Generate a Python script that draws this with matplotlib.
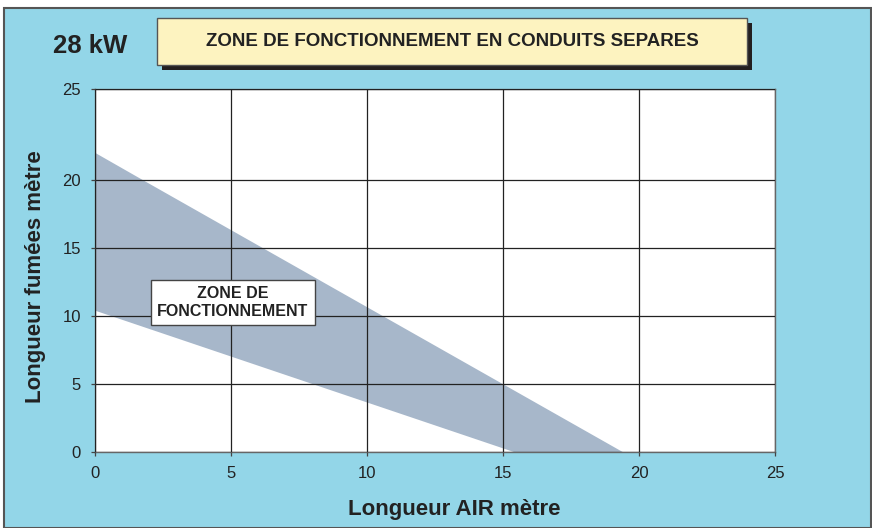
import matplotlib.pyplot as plt
from matplotlib.patches import Rectangle, Polygon
import numpy as np

plt.rcParams['font.family'] = ['Liberation Sans', 'DejaVu Sans']

# operating zone (air length, flue length); upper edge bends where it meets the 20 m line
upper_x = [0, 1.76, 19.4]
upper_y = [21.5, 20, 0]
lower_x = [0, 15.4]
lower_y = [10.4, 0]

x_ticks = [0, 5, 10, 15, 20, 25]
y_ticks = [0, 5, 10, 15, 20, 25]

power = "28 kW"
title = "ZONE DE FONCTIONNEMENT EN CONDUITS SEPARES"
zone_label = "ZONE DE\nFONCTIONNEMENT"
xlabel = "Longueur AIR mètre"
ylabel = "Longueur fumées mètre"

bg = '#93d6e8'
zone_col = '#a7b7ca'

# top band of the y axis (20-25) is drawn taller than the others
STRETCH = 1.34


def fwd(y):
    y = np.asarray(y, dtype=float)
    return np.where(y <= 20, y, 20 + (y - 20) * STRETCH)


def inv(y):
    y = np.asarray(y, dtype=float)
    return np.where(y <= 20, y, 20 + (y - 20) / STRETCH)


W, H = 872, 528
fig = plt.figure(figsize=(W / 100, H / 100), dpi=100)
fig.patch.set_facecolor('white')

# blue panel with grey frame
fig.patches.append(Rectangle((4 / W, 0), 1 - 5 / W, 1 - 8 / H, transform=fig.transFigure,
                             facecolor=bg, edgecolor='#555555', linewidth=1.5, zorder=-1))

ax = fig.add_axes([95 / W, (H - 452) / H, (775 - 95) / W, (452 - 89) / H])
ax.set_zorder(2)
ax.set_yscale('function', functions=(fwd, inv))
ax.set_xlim(0, 25)
ax.set_ylim(0, 25)
ax.set_facecolor('white')

poly = list(zip(upper_x, upper_y)) + list(zip(lower_x[::-1], lower_y[::-1]))
ax.add_patch(Polygon(poly, closed=True, facecolor=zone_col, edgecolor='none', zorder=1))

ax.set_xticks(x_ticks)
ax.set_yticks(y_ticks)
ax.minorticks_off()
ax.grid(True, color='#222222', linewidth=0.9, zorder=2)
ax.set_axisbelow(False)
ax.tick_params(direction='out', length=3, width=0.9, color='#444444',
               labelsize=12, labelcolor='#222222', pad=7)
for s in ax.spines.values():
    s.set_color('#666666')
    s.set_linewidth(1.0)

ax.set_xlabel(xlabel, fontsize=16, fontweight='bold', color='#222222')
ax.set_ylabel(ylabel, fontsize=16, fontweight='bold', color='#222222')
ax.xaxis.set_label_coords(0.529, -0.13)
ax.yaxis.set_label_coords(-0.072, 0.482)

ax.text(5.07, 11.0, zone_label, ha='center', va='center', fontsize=11.5, fontweight='bold',
        color='#222222', linespacing=1.25, zorder=5,
        bbox=dict(boxstyle='square,pad=0.4', facecolor='white', edgecolor='#444444', linewidth=1))

# title box with drop shadow
fig.patches.append(Rectangle((162 / W, (H - 70) / H), 590 / W, 47 / H, transform=fig.transFigure,
                             facecolor='#231f20', edgecolor='none', zorder=3))
fig.patches.append(Rectangle((157 / W, (H - 65) / H), 590 / W, 47 / H, transform=fig.transFigure,
                             facecolor='#fdf3c0', edgecolor='#555555', linewidth=1, zorder=4))
fig.text(452 / W, (H - 42) / H, title, ha='center', va='center', fontsize=13.5,
         fontweight='bold', color='#222222', zorder=5)
fig.text(90 / W, (H - 46) / H, power, ha='center', va='center', fontsize=18.5,
         fontweight='bold', color='#222222', zorder=5)

fig.savefig('out.png', dpi=100, facecolor=fig.get_facecolor())
